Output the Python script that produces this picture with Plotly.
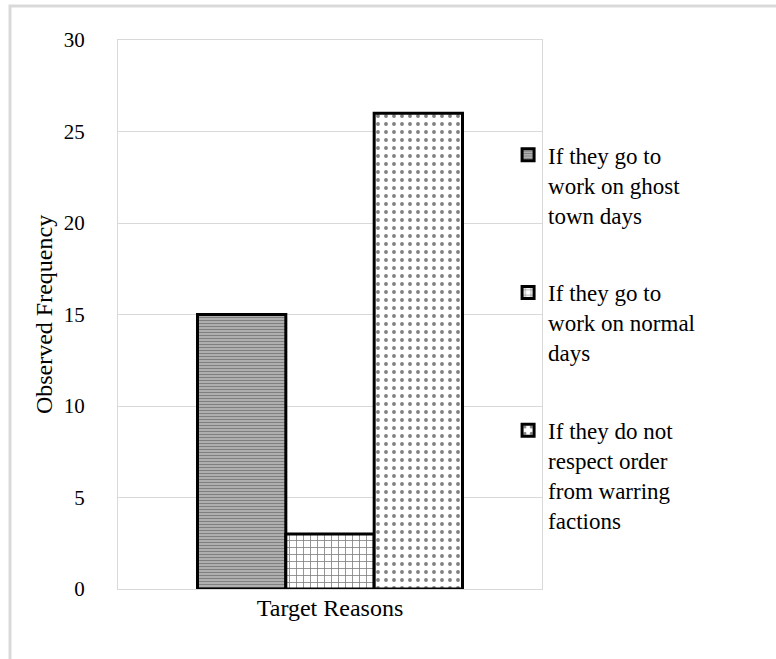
import plotly.graph_objects as go

categories = ["Target Reasons"]
series_names = [
    "If they go to<br>work on ghost<br>town days",
    "If they go to<br>work on normal<br>days",
    "If they do not<br>respect order<br>from warring<br>factions",
]
series_values = [[15], [3], [26]]
pattern_shapes = ["-", "+", "."]
pattern_sizes = [3, 7, 8]
pattern_solidity = [0.75, 0.22, 0.18]

FONT = "'Times New Roman', Tinos, 'Liberation Serif', 'DejaVu Serif', serif"
GRID = "#d9d9d9"

fig = go.Figure()
for i, (name, vals) in enumerate(zip(series_names, series_values)):
    fig.add_trace(go.Bar(
        x=categories,
        y=vals,
        name=name,
        legendgroup=f"g{i}",
        marker=dict(
            color="white",
            line=dict(color="black", width=3),
            pattern=dict(
                shape=pattern_shapes[i],
                size=pattern_sizes[i],
                solidity=pattern_solidity[i],
                fgcolor="black",
                bgcolor="white",
                fillmode="overlay",
            ),
        ),
    ))

fig.update_layout(
    width=776,
    height=659,
    margin=dict(l=118, r=234, t=40, b=70),
    paper_bgcolor="white",
    plot_bgcolor="white",
    barmode="group",
    bargap=0.375,
    bargroupgap=0,
    font=dict(family=FONT, size=20, color="black"),
    showlegend=True,
    legend=dict(
        x=0.92, xanchor="left",
        y=0.83, yanchor="top",
        traceorder="grouped",
        tracegroupgap=45,
        valign="top",
        font=dict(family=FONT, size=23, color="black"),
        bgcolor="rgba(0,0,0,0)",
        itemwidth=30,
    ),
    xaxis=dict(
        showline=True, mirror=True, linecolor=GRID, linewidth=1,
        showgrid=False, ticks="",
        ticklabelstandoff=-3,
        tickfont=dict(family=FONT, size=24),
    ),
    yaxis=dict(
        range=[0, 30], dtick=5,
        showline=True, mirror=True, linecolor=GRID, linewidth=1,
        showgrid=True, gridcolor=GRID, gridwidth=1,
        zeroline=False, ticks="",
        ticklabelstandoff=28,
        tickfont=dict(family=FONT, size=21),
        title=dict(text="Observed Frequency", standoff=4,
                   font=dict(family=FONT, size=24)),
    ),
    shapes=[
        dict(type="rect", xref="paper", yref="paper",
             x0=(10 - 118) / 424, x1=2.0,
             y0=-2.0, y1=(589 - 6) / 549,
             line=dict(color="#d9d9d9", width=3),
             fillcolor="rgba(0,0,0,0)", layer="below"),
    ],
)

fig.write_html("out.html")
